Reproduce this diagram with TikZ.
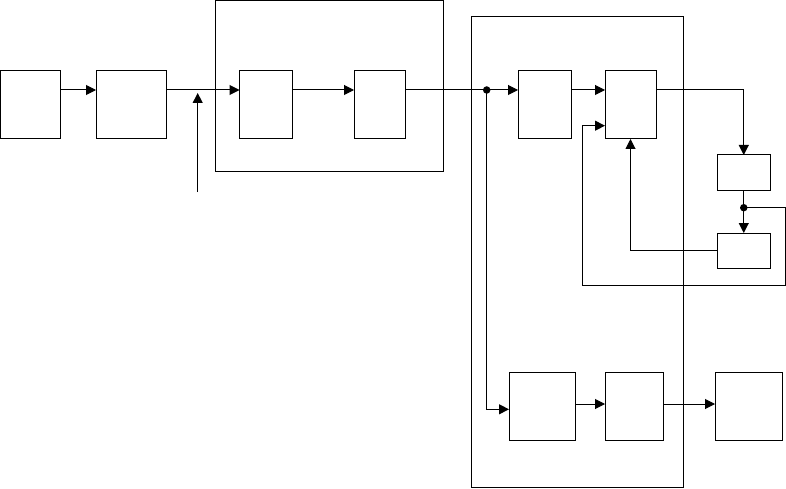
\documentclass[tikz,border=0pt]{standalone}
\usepackage{tikz}
\usetikzlibrary{positioning, arrows.meta, calc}
\tikzset{
  blk/.style={draw=black, fill=white, line width=1pt, inner sep=0pt, outer sep=0pt,
    minimum height=68pt, anchor=north west},
  smallblk/.style={blk, minimum height=35pt},
  groupbox/.style={draw=black, line width=1pt, inner sep=0pt, outer sep=0pt, anchor=north west},
  stdarrow/.style={-{Triangle[length=10pt, width=10pt]}, line width=1pt, color=black},
  junction/.style={circle, fill=black, inner sep=0pt, minimum size=7.5pt},
}

\begin{document}
\begin{tikzpicture}[x=1pt, y=-1pt]
  \useasboundingbox (0,0) rectangle (786,489);

  % === Group frames ===
  \node[groupbox, minimum width=228pt, minimum height=171.5pt] (grpA) at (215,0.5) {};
  \node[groupbox, minimum width=212pt, minimum height=470pt] (grpB) at (471,17) {};

  % === Row 1: blocks ===
  \node[blk, minimum width=60pt] (src) at (0.5,71) {};
  \node[blk, minimum width=70pt] (pre) at (96,71) {};
  \node[blk, minimum width=53pt] (stA) at (239.5,71) {};
  \node[blk, minimum width=51pt] (stB) at (354,71) {};
  \node[blk, minimum width=53.5pt] (proc) at (518,71) {};
  \node[blk, minimum width=51pt] (ctrl) at (605,71) {};

  % === Feedback blocks ===
  \node[smallblk, minimum width=53.5pt] (fbA) at (717,155) {};
  \node[smallblk, minimum width=53.5pt] (fbB) at (717,233) {};

  % === Lower row ===
  \node[blk, minimum width=66.5pt] (lowA) at (509,372) {};
  \node[blk, minimum width=58.5pt] (lowB) at (605,372) {};
  \node[blk, minimum width=67pt] (sink) at (715,372) {};

  % helper coordinates
  \coordinate (row) at (0,90);
  \coordinate (fbrow) at (0,125.7);
  \coordinate (lowrow) at (0,404);
  \coordinate (inBot) at (197.7,192);
  \coordinate (inTop) at (197.7,93);
  \coordinate (split) at (486.7,90);
  \coordinate (tap) at (743.75,207.7);
  \coordinate (loopL) at (582.7,285.3);

  % Arrows: main row
  \draw[stdarrow] (src.east |- row) -- (pre.west |- row);
  \draw[stdarrow] (pre.east |- row) -- (stA.west |- row);
  \draw[stdarrow] (inBot) -- (inTop);
  \draw[stdarrow] (stA.east |- row) -- (stB.west |- row);
  \draw[stdarrow] (stB.east |- row) -- (proc.west |- row);
  \draw[stdarrow] (proc.east |- row) -- (ctrl.west |- row);

  % Arrows: feedback loop
  \draw[stdarrow] (ctrl.east |- row) -| (fbA.north);
  \draw[stdarrow] (fbA.south) -- (fbB.north);
  \draw[stdarrow] (fbB.west) -| (ctrl.south);
  \draw[stdarrow] (tap) -- ++(41.5,0) |- (loopL) |- (ctrl.west |- fbrow);

  % Arrows: lower branch
  \draw[stdarrow] (split) |- (lowA.west |- 0,409.3);
  \draw[stdarrow] (lowA.east |- lowrow) -- (lowB.west |- lowrow);
  \draw[stdarrow] (lowB.east |- lowrow) -- (sink.west |- lowrow);

  % Junction dots
  \node[junction] (dotSplit) at (split) {};
  \node[junction] (dotTap) at (tap) {};

\end{tikzpicture}
\end{document}
